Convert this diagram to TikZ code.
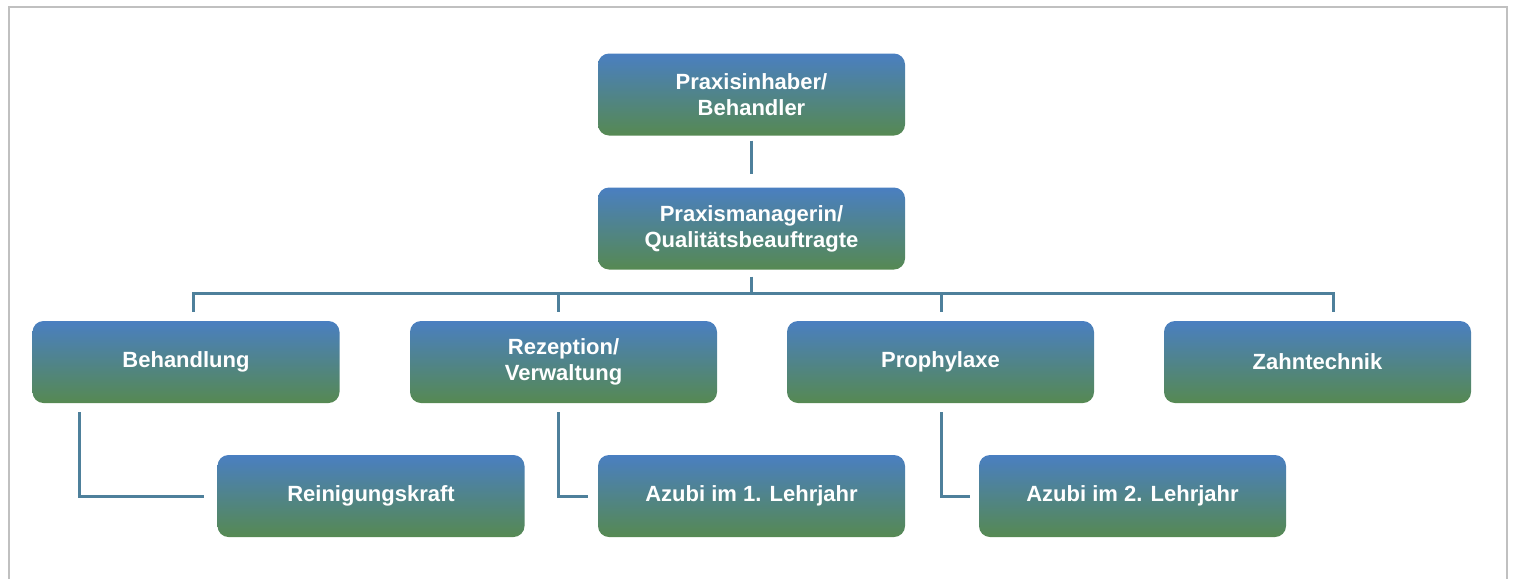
\documentclass[tikz,border=0pt]{standalone}
\usepackage{fontspec}
\setmainfont{Liberation Sans}
\usetikzlibrary{arrows}

\definecolor{boxtop}{RGB}{74,127,193}
\definecolor{boxbottom}{RGB}{86,137,82}
\definecolor{linkcol}{RGB}{78,128,155}
\definecolor{framecol}{RGB}{192,192,192}

\begin{document}
\begin{tikzpicture}[x=1pt,y=-1pt]
    \tikzset{unit/.style = {shape=rectangle,rounded corners=11pt,top color=boxtop,bottom color=boxbottom,minimum width=307pt,minimum height=82pt,inner sep=0pt,align=center,text=white,font=\fontsize{22}{26}\selectfont\bfseries}}
    \tikzset{link/.style = {draw=linkcol,line width=3pt}}
    \useasboundingbox (0,0) rectangle (1513,579);
    % frame
    \draw[framecol,line width=1.5pt] (9,579) -- (9,7) -- (1507,7) -- (1507,579);
    % vertices
    \node[unit] (inhaber) at  (751.5,94.5) {Praxisinhaber/\\Behandler};
    \node[unit] (manager) at  (751.5,228.5) {Praxismanagerin/\\Qualitätsbeauftragte};
    \path[link] ([yshift=-5pt]inhaber.south) -- ([yshift=13pt]manager.north);
%%%%%%%%%%%%%%%%%
    \node[unit] (behandlung) at  (186,362) {Behandlung};
    \node[unit] (rezeption) at  (563.5,362) {Rezeption/\\Verwaltung};
    \node[unit] (prophylaxe) at  (940.5,362) {Prophylaxe};
    \node[unit] (zahntechnik) at  (1317.5,362) {Zahntechnik};
    \coordinate (bus) at  (751.5,293);
    \coordinate (bus1) at  (193,293);
    \coordinate (bus2) at  (558,293);
    \coordinate (bus3) at  (941,293);
    \coordinate (bus4) at  (1333,293);
    \path[link] ([yshift=-7pt]manager.south) -- (bus);
    \path[link] ([yshift=9pt]behandlung.north -| bus1) -- (bus1) -- (bus4)
    -- ([yshift=9pt]zahntechnik.north -| bus4);
    \path[link] (bus2) -- ([yshift=9pt]rezeption.north -| bus2);
    \path[link] (bus3) -- ([yshift=9pt]prophylaxe.north -| bus3);
%%%%%%%%%%%%%%%%%
    \node[unit] (reinigung) at  (371,496) {Reinigungskraft};
    \node[unit] (azubi1) at  (751.5,496) {Azubi im 1. Lehrjahr};
    \node[unit] (azubi2) at  (1132.5,496) {Azubi im 2. Lehrjahr};
    \coordinate (sub1) at  (79,412);
    \coordinate (sub2) at  (558,412);
    \coordinate (sub3) at  (941,412);
    \path[link] (sub1) |- ([xshift=-13pt]reinigung.west);
    \path[link] (sub2) |- ([xshift=-10pt]azubi1.west);
    \path[link] (sub3) |- ([xshift=-9pt]azubi2.west);

    \end{tikzpicture}
\end{document}
